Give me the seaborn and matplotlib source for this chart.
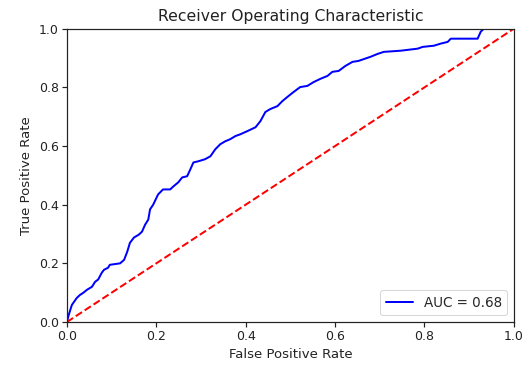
import matplotlib
matplotlib.use("Agg")
import matplotlib.pyplot as plt
import seaborn as sns
import pandas as pd

# ROC curve points
fpr = [0.000, 0.004, 0.011, 0.022, 0.029, 0.037, 0.045, 0.056, 0.063, 0.070,
       0.078, 0.083, 0.092, 0.096, 0.119, 0.128, 0.135, 0.141, 0.150, 0.161,
       0.168, 0.175, 0.182, 0.186, 0.193, 0.204, 0.215, 0.231, 0.238, 0.249,
       0.258, 0.269, 0.276, 0.283, 0.294, 0.309, 0.321, 0.332, 0.343, 0.354,
       0.365, 0.377, 0.388, 0.404, 0.422, 0.433, 0.444, 0.455, 0.471, 0.482,
       0.493, 0.507, 0.522, 0.538, 0.552, 0.567, 0.583, 0.594, 0.608, 0.623,
       0.639, 0.652, 0.679, 0.695, 0.709, 0.747, 0.785, 0.796, 0.821, 0.836,
       0.852, 0.859, 0.919, 0.926, 0.933, 1.000]
tpr = [0.000, 0.024, 0.058, 0.082, 0.092, 0.100, 0.110, 0.120, 0.137, 0.145,
       0.168, 0.178, 0.185, 0.195, 0.200, 0.212, 0.240, 0.270, 0.288, 0.298,
       0.308, 0.332, 0.349, 0.384, 0.400, 0.435, 0.452, 0.452, 0.462, 0.476,
       0.493, 0.497, 0.520, 0.544, 0.548, 0.555, 0.565, 0.589, 0.606, 0.616,
       0.623, 0.634, 0.640, 0.651, 0.664, 0.685, 0.716, 0.726, 0.736, 0.753,
       0.767, 0.784, 0.801, 0.805, 0.818, 0.829, 0.839, 0.853, 0.856, 0.873,
       0.887, 0.890, 0.904, 0.914, 0.921, 0.925, 0.932, 0.938, 0.942, 0.949,
       0.955, 0.966, 0.966, 0.990, 1.000, 1.000]
diag_x = [0.0, 1.0]
diag_y = [0.0, 1.0]
auc_label = "AUC = 0.68"
title = "Receiver Operating Characteristic"
xlabel = "False Positive Rate"
ylabel = "True Positive Rate"

sns.set_style("ticks")
plt.rcParams["font.family"] = ["DejaVu Sans"]

fig, ax = plt.subplots(figsize=(527 / 72, 368 / 72), dpi=72)
fig.subplots_adjust(left=0.127, right=0.975, bottom=0.125, top=0.922)

roc = pd.DataFrame({"fpr": fpr, "tpr": tpr})
diag = pd.DataFrame({"x": diag_x, "y": diag_y})

sns.lineplot(data=roc, x="fpr", y="tpr", sort=False, color="b",
             linewidth=2.0, label=auc_label, ax=ax)
sns.lineplot(data=diag, x="x", y="y", sort=False, color="r",
             linestyle="--", linewidth=2.0, ax=ax)

ax.set_xlim(0, 1)
ax.set_ylim(0, 1)
ax.set_title(title, fontsize=15.6, color="#222222", pad=8)
ax.set_xlabel(xlabel, fontsize=13.3, color="#222222", labelpad=5)
ax.set_ylabel(ylabel, fontsize=13.3, color="#222222", labelpad=6)
ax.tick_params(labelsize=12.5, length=4.7, width=1.2, colors="#222222")
for s in ax.spines.values():
    s.set_visible(True)
    s.set_color("#222222")
    s.set_linewidth(1.2)
leg = ax.legend(loc="lower right", fontsize=13.5, frameon=True)

fig.savefig("out.png", dpi=72)
